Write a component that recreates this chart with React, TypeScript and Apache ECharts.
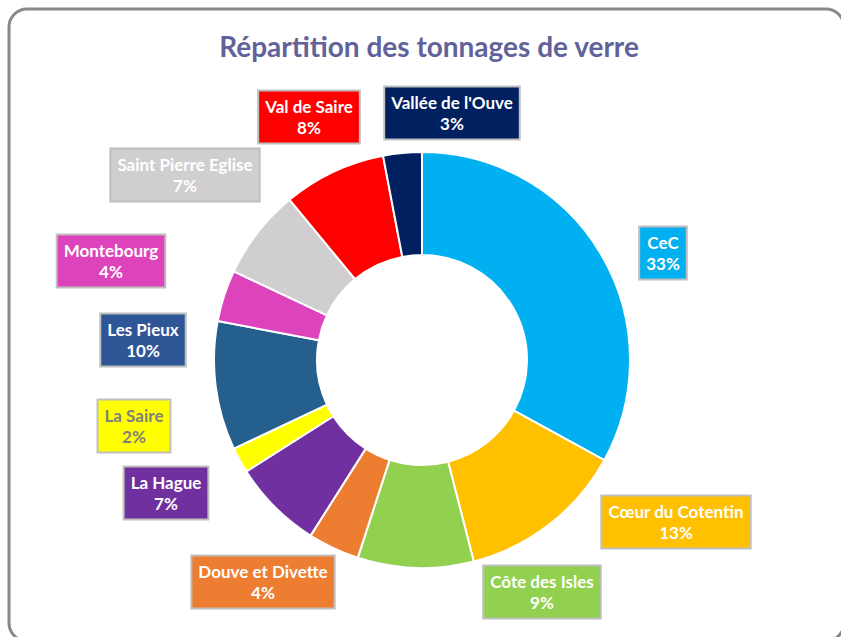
import React, { useEffect, useRef } from "react";
import * as echarts from "echarts";

const categories = [
  "CeC",
  "Cœur du Cotentin",
  "Côte des Isles",
  "Douve et Divette",
  "La Hague",
  "La Saire",
  "Les Pieux",
  "Montebourg",
  "Saint Pierre Eglise",
  "Val de Saire",
  "Vallée de l'Ouve",
];
const values = [33, 13, 9, 4, 7, 2, 10, 4, 7, 8, 3];
const sliceColors = [
  "#00b0f0",
  "#ffc000",
  "#92d050",
  "#ed7d31",
  "#7030a0",
  "#ffff00",
  "#245f8e",
  "#dd44bb",
  "#d0cece",
  "#ff0000",
  "#002060",
];
const labelBg = [
  "#00b0f0",
  "#ffc000",
  "#92d050",
  "#ed7d31",
  "#7030a0",
  "#ffff00",
  "#2e5596",
  "#dd44bb",
  "#d0cece",
  "#ff0000",
  "#002060",
];
const labelTextColors = [
  "#ffffff",
  "#ffffff",
  "#ffffff",
  "#ffffff",
  "#ffffff",
  "#7f7f7f",
  "#ffffff",
  "#ffffff",
  "#ffffff",
  "#ffffff",
  "#ffffff",
];
// label centres (px) as placed in the reference
const labelPos: [number, number][] = [
  [663, 253],
  [676, 522],
  [542, 592],
  [263, 582],
  [166, 493],
  [134, 426],
  [143, 340],
  [111, 261],
  [185, 175],
  [309, 117],
  [452, 113],
];
const title = "Répartition des tonnages de verre";

export default function App() {
  const ref = useRef<HTMLDivElement>(null);
  useEffect(() => {
    if (!ref.current) return;
    const chart = echarts.init(ref.current, null, { renderer: "svg" });
    const total = values.reduce((a, b) => a + b, 0);
    chart.setOption({
      animation: false,
      backgroundColor: "#ffffff",
      title: {
        text: title,
        left: 424,
        top: 27,
        textAlign: "center",
        textStyle: {
          fontFamily: "Lato",
          fontWeight: "bold",
          fontSize: 28,
          color: "#62629a",
        },
      },
      graphic: [
        {
          type: "rect",
          shape: { x: 9, y: 9, width: 835, height: 632, r: 18 },
          style: { fill: "none", stroke: "#888888", lineWidth: 3 },
          silent: true,
        },
      ],
      series: [
        {
          type: "pie",
          center: [422, 360],
          radius: [105, 208],
          startAngle: 90,
          clockwise: true,
          avoidLabelOverlap: false,
          itemStyle: { borderColor: "#ffffff", borderWidth: 2 },
          labelLine: { show: false },
          label: {
            show: true,
            position: "outside",
            formatter: (p: any) =>
              `${p.name}\n${Math.round((p.value / total) * 100)}%`,
            fontFamily: "Lato",
            fontWeight: "bold",
            fontSize: 17,
            lineHeight: 21,
            padding: [5, 6, 4, 6],
            borderColor: "#bfbfbf",
            borderWidth: 2,
            align: "center",
          },
          labelLayout: (params: any) => {
            const pos = labelPos[params.dataIndex];
            return {
              x: pos[0],
              y: pos[1],
              align: "center",
              verticalAlign: "middle",
            };
          },
          data: categories.map((name, i) => ({
            name,
            value: values[i],
            itemStyle: { color: sliceColors[i] },
            label: {
              backgroundColor: labelBg[i],
              color: labelTextColors[i],
            },
          })),
        },
      ],
    });
    return () => chart.dispose();
  }, []);
  return (
    <div
      ref={ref}
      style={{ position: "fixed", left: 0, top: 0, width: 841, height: 637 }}
    />
  );
}
